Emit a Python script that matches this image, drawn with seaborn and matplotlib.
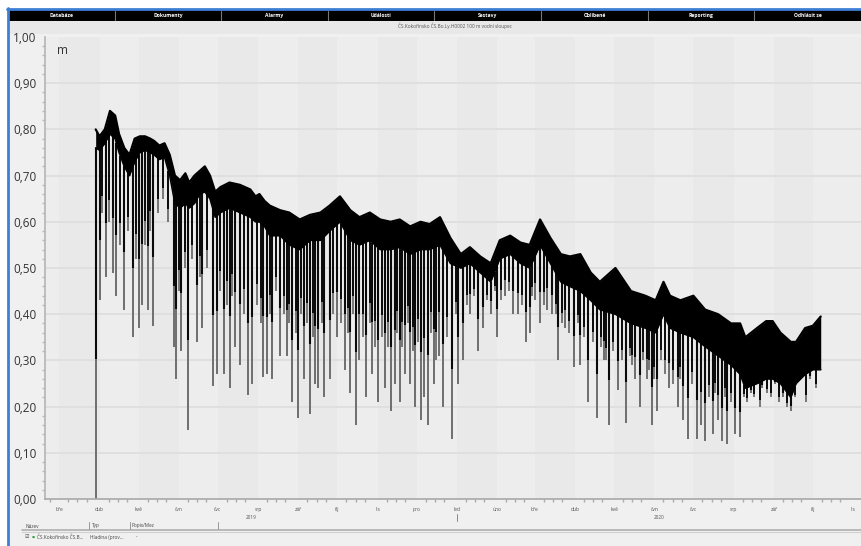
import numpy as np
import pandas as pd
import matplotlib
matplotlib.use("Agg")
import matplotlib.pyplot as plt
import matplotlib.dates as mdates
from matplotlib.patches import Rectangle
from matplotlib.lines import Line2D
import seaborn as sns

# ---------------- data ----------------
start_date = "2019-03-29"
# dense band of the water level record (day offset, top, bottom) in m
env_day = [0, 3, 7, 11, 15, 18, 22, 26, 30, 34, 38, 42, 45, 49, 53, 57, 61, 65, 69, 72,
           76, 80, 84, 88, 92, 96, 103, 111, 119, 123, 126, 130, 134, 142, 149, 157, 165,
           173, 180, 188, 196, 203, 211, 219, 227, 234, 242, 250, 257, 265, 273, 281, 288,
           296, 304, 311, 319, 327, 334, 342, 350, 358, 365, 373, 381, 388, 400, 412, 423,
           431, 437, 442, 450, 460, 469, 479, 489, 496, 500, 509, 516, 521, 527, 535, 539,
           546, 552, 558]
env_top = [0.80, 0.785, 0.80, 0.84, 0.83, 0.79, 0.76, 0.745, 0.78, 0.785, 0.785, 0.78, 0.775,
           0.765, 0.77, 0.745, 0.70, 0.69, 0.705, 0.685, 0.70, 0.71, 0.72, 0.70, 0.665, 0.675,
           0.685, 0.68, 0.67, 0.655, 0.66, 0.645, 0.635, 0.625, 0.62, 0.605, 0.615, 0.62, 0.635,
           0.655, 0.625, 0.61, 0.62, 0.605, 0.60, 0.605, 0.59, 0.60, 0.595, 0.61, 0.565, 0.53,
           0.545, 0.525, 0.51, 0.56, 0.57, 0.555, 0.55, 0.605, 0.565, 0.53, 0.525, 0.53, 0.49,
           0.47, 0.50, 0.45, 0.44, 0.43, 0.47, 0.44, 0.43, 0.44, 0.41, 0.40, 0.38, 0.38, 0.35,
           0.37, 0.385, 0.385, 0.36, 0.34, 0.34, 0.37, 0.375, 0.395]
env_bottom = [0.76, 0.755, 0.77, 0.79, 0.78, 0.75, 0.72, 0.70, 0.73, 0.75, 0.755, 0.75, 0.745,
              0.735, 0.74, 0.70, 0.64, 0.63, 0.64, 0.63, 0.64, 0.66, 0.665, 0.65, 0.61, 0.62,
              0.63, 0.62, 0.61, 0.60, 0.60, 0.59, 0.57, 0.57, 0.55, 0.54, 0.56, 0.56, 0.58,
              0.60, 0.56, 0.55, 0.56, 0.54, 0.54, 0.545, 0.53, 0.54, 0.54, 0.55, 0.51, 0.50,
              0.51, 0.49, 0.47, 0.52, 0.53, 0.51, 0.50, 0.55, 0.51, 0.47, 0.46, 0.45, 0.43,
              0.41, 0.40, 0.38, 0.37, 0.36, 0.40, 0.37, 0.36, 0.35, 0.33, 0.31, 0.29, 0.27,
              0.24, 0.25, 0.26, 0.26, 0.25, 0.22, 0.25, 0.27, 0.28, 0.28]
# deep downward drops (day offset, minimum level in m)
drop_day = [0, 3, 8, 13, 16, 22, 29, 33, 36, 40, 44, 60, 62, 66, 71, 78, 82, 90, 93, 99,
            103, 107, 111, 117, 120, 129, 132, 136, 142, 147, 151, 156, 160, 165, 169, 171,
            176, 180, 186, 192, 196, 200, 203, 208, 213, 217, 223, 227, 230, 234, 238, 242,
            246, 250, 253, 256, 260, 264, 267, 274, 279, 283, 288, 294, 298, 304, 309, 315,
            321, 325, 331, 334, 338, 342, 347, 351, 356, 361, 368, 373, 379, 386, 391, 395,
            402, 408, 415, 419, 424, 428, 432, 441, 448, 452, 456, 463, 466, 469, 475, 479,
            482, 486, 492, 496, 504, 513, 523, 529, 535, 543, 550]
drop_low = [0.0, 0.43, 0.48, 0.49, 0.44, 0.41, 0.35, 0.37, 0.42, 0.41, 0.375, 0.33, 0.26,
            0.32, 0.15, 0.34, 0.37, 0.245, 0.27, 0.27, 0.24, 0.33, 0.29, 0.225, 0.25, 0.265,
            0.27, 0.26, 0.31, 0.31, 0.21, 0.175, 0.26, 0.185, 0.25, 0.24, 0.22, 0.26, 0.35,
            0.28, 0.23, 0.16, 0.30, 0.22, 0.27, 0.21, 0.24, 0.19, 0.25, 0.21, 0.27, 0.25, 0.20,
            0.17, 0.22, 0.16, 0.25, 0.31, 0.20, 0.13, 0.25, 0.30, 0.40, 0.32, 0.37, 0.40, 0.35,
            0.44, 0.40, 0.40, 0.34, 0.36, 0.43, 0.38, 0.41, 0.40, 0.30, 0.37, 0.285, 0.29,
            0.21, 0.175, 0.30, 0.16, 0.235, 0.165, 0.26, 0.20, 0.26, 0.16, 0.19, 0.24, 0.20,
            0.17, 0.13, 0.13, 0.16, 0.125, 0.14, 0.17, 0.125, 0.12, 0.14, 0.135, 0.23, 0.24,
            0.25, 0.22, 0.19, 0.26, 0.26]
# shallower dips between the deep drops (day offset, minimum level in m)
dip_day = [5, 10, 19, 25, 31, 38, 42, 48, 52, 56, 64, 69, 74, 80, 86, 96, 101, 105, 114, 124,
           127, 134, 139, 145, 149, 154, 158, 163, 167, 174, 183, 189, 194, 198, 206, 211, 215,
           220, 225, 232, 236, 240, 244, 248, 258, 262, 270, 277, 286, 291, 301, 307, 312, 318,
           328, 336, 345, 354, 359, 364, 371, 376, 383, 389, 393, 398, 405, 411, 413, 421,
           426, 430, 435, 438, 444, 450, 459, 472, 477, 484, 489, 499, 501, 507, 511, 517,
           520, 526, 532, 538, 547, 554]
dip_low = [0.62, 0.60, 0.55, 0.58, 0.52, 0.55, 0.58, 0.62, 0.65, 0.60, 0.45, 0.50, 0.52, 0.48,
           0.50, 0.45, 0.42, 0.44, 0.40, 0.42, 0.38, 0.40, 0.45, 0.40, 0.38, 0.36, 0.40, 0.38,
           0.35, 0.38, 0.40, 0.38, 0.36, 0.40, 0.35, 0.38, 0.33, 0.35, 0.33, 0.36, 0.33, 0.38,
           0.32, 0.34, 0.36, 0.30, 0.35, 0.40, 0.42, 0.44, 0.43, 0.45, 0.43, 0.45, 0.42, 0.44,
           0.42, 0.40, 0.38, 0.36, 0.38, 0.35, 0.34, 0.33, 0.30, 0.32, 0.30, 0.31, 0.29, 0.30,
           0.28, 0.26, 0.30, 0.27, 0.25, 0.26, 0.25, 0.22, 0.23, 0.22, 0.21, 0.22, 0.21, 0.22,
           0.20, 0.23, 0.22, 0.21, 0.20, 0.22, 0.21, 0.24]

month_ticks = pd.date_range("2019-03-01", "2020-11-01", freq="MS")
month_labels = ["bře", "dub", "kvě", "čvn", "čvc", "srp", "zář", "říj", "lis", "pro", "led",
                "úno", "bře", "dub", "kvě", "čvn", "čvc", "srp", "zář", "říj", "lis"]
year_labels = ["2019", "2020"]
y_ticks = [0.0, 0.1, 0.2, 0.3, 0.4, 0.5, 0.6, 0.7, 0.8, 0.9, 1.0]
y_labels = ["0,00", "0,10", "0,20", "0,30", "0,40", "0,50", "0,60", "0,70", "0,80", "0,90", "1,00"]
tabs = ["Databáze", "Dokumenty", "Alarmy", "Události", "Sestavy", "Oblíbené", "Reporting", "Odhlásit se"]
chart_title = "ČS.Kokořínsko ČS.Bo.Ly.H0002 100 m vodní sloupec"

# ---------------- figure ----------------
sns.set_theme(style="white")
plt.rcParams["font.family"] = ["Open Sans", "DejaVu Sans"]
W, H = 861, 546
fig = plt.figure(figsize=(W / 100, H / 100), dpi=100, facecolor="white")

def fx(px):
    return px / W

def fy(py):
    return 1 - py / H

# app chrome
fig.patches.append(Rectangle((fx(8), 0), 1 - fx(8), fy(9), transform=fig.transFigure,
                             facecolor="#f0f0f0", edgecolor="none", zorder=-5))
fig.patches.append(Rectangle((fx(8), fy(21)), 1 - fx(8), fy(10) - fy(21), transform=fig.transFigure,
                             facecolor="#000000", edgecolor="none", zorder=-4))
fig.patches.append(Rectangle((fx(8), fy(34)), 1 - fx(8), fy(21) - fy(34), transform=fig.transFigure,
                             facecolor="#e8e8e8", edgecolor="none", zorder=-4))
fig.lines.append(Line2D([fx(8), fx(8)], [0, fy(8)], transform=fig.transFigure, color="#3d7fd6", lw=2))
fig.lines.append(Line2D([fx(7), 1], [fy(8.5), fy(8.5)], transform=fig.transFigure, color="#3d7fd6", lw=2))
tab_w = (W - 8) / len(tabs)
for i, t in enumerate(tabs):
    cx = 8 + tab_w * (i + 0.5)
    fig.text(fx(cx), fy(15.5), t, color="white", fontsize=3.6, fontweight="bold", ha="center", va="center")
    if i > 0:
        fig.lines.append(Line2D([fx(8 + tab_w * i)] * 2, [fy(11), fy(20)], transform=fig.transFigure,
                                color="#777777", lw=0.8))
fig.text(fx(455), fy(26), chart_title, fontsize=3.4, color="#555555", ha="center", va="center")

# bottom legend table
fig.lines.append(Line2D([fx(22), 1], [fy(530), fy(530)], transform=fig.transFigure, color="#b0b0b0", lw=1.2))
fig.lines.append(Line2D([fx(22), 1], [fy(532), fy(532)], transform=fig.transFigure, color="#d0d0d0", lw=0.8))
for x0, lab in [(26, "Název"), (92, "Typ"), (132, "Popis/Mez")]:
    fig.text(fx(x0), fy(526), lab, fontsize=3.4, color="#444444", ha="left", va="center")
for x0 in [89, 130, 218]:
    fig.lines.append(Line2D([fx(x0)] * 2, [fy(522), fy(529)], transform=fig.transFigure, color="#999999", lw=0.7))
fig.text(fx(25), fy(537), "☑", fontsize=3.6, color="#444444", ha="left", va="center",
         family=["DejaVu Sans"])
fig.text(fx(32), fy(537), "●", fontsize=2.5, color="#2a9d3a", ha="left", va="center", family=["DejaVu Sans"])
fig.text(fx(37), fy(537), "ČS.Kokořínsko ČS.B...", fontsize=3.4, color="#444444", ha="left", va="center")
fig.text(fx(90), fy(537), "Hladina (prov...", fontsize=3.4, color="#444444", ha="left", va="center")
fig.text(fx(136), fy(537), "-", fontsize=3.4, color="#444444", ha="left", va="center")

# ---------------- axes ----------------
ax = fig.add_axes([fx(45), fy(499), fx(861) - fx(45), fy(37) - fy(499)])
ax.set_zorder(10)
ax.set_facecolor("#ededed")
t0 = pd.Timestamp(start_date)
env_dates = t0 + pd.to_timedelta(env_day, unit="D")
drop_dates = t0 + pd.to_timedelta(drop_day, unit="D")
dip_dates = t0 + pd.to_timedelta(dip_day, unit="D")

xmin, xmax = pd.Timestamp("2019-02-18"), pd.Timestamp("2020-11-07")
ax.set_xlim(xmin, xmax)
ax.set_ylim(0, 1.0)

# alternating month stripes
for i in range(len(month_ticks) - 1):
    if i % 2 == 0:
        ax.axvspan(month_ticks[i], month_ticks[i + 1], color="#e9e9e9", lw=0, zorder=0)
for v in y_ticks[1:-1]:
    ax.axhline(v, color="#dcdcdc", lw=1.1, zorder=0.5)

env_num = mdates.date2num(env_dates)

def draw_drops(dates, lows, frac, lw_grey, lw_black):
    num = mdates.date2num(dates)
    base = np.interp(num, env_num, env_bottom)
    low = np.array(lows)
    ax.vlines(dates, low, base, color="#6e6e6e", lw=lw_grey, zorder=2)
    ax.vlines(dates, base - frac * (base - low), base, color="#0a0a0a", lw=lw_black, zorder=3)

draw_drops(drop_dates, drop_low, 0.6, 1.4, 1.5)
draw_drops(dip_dates, dip_low, 0.75, 1.3, 1.4)

# dense band
ax.fill_between(env_dates, env_bottom, env_top, color="#000000", lw=0, zorder=4)
df_top = pd.DataFrame({"date": env_dates, "level": env_top})
df_bot = pd.DataFrame({"date": env_dates, "level": env_bottom})
sns.lineplot(data=df_top, x="date", y="level", ax=ax, color="black", lw=1.6, zorder=5)
sns.lineplot(data=df_bot, x="date", y="level", ax=ax, color="black", lw=1.2, zorder=5)

# axes styling
ax.set_xlabel("")
ax.set_ylabel("")
for s in ["top", "right"]:
    ax.spines[s].set_visible(False)
ax.spines["left"].set_color("#b5b5b5")
ax.spines["left"].set_linewidth(1.2)
ax.spines["bottom"].set_color("#a8a8a8")
ax.spines["bottom"].set_linewidth(1.2)
ax.set_yticks(y_ticks)
ax.set_yticklabels(y_labels, fontsize=8.5, color="#333333")
ax.yaxis.set_minor_locator(matplotlib.ticker.MultipleLocator(0.02))
ax.tick_params(axis="y", which="major", length=3, color="#aaaaaa", pad=3)
ax.tick_params(axis="y", which="minor", length=2, color="#bbbbbb", left=True)
ax.set_xticks(month_ticks)
ax.set_xticklabels(month_labels, fontsize=3.6, color="#555555")
ax.xaxis.set_minor_locator(mdates.DayLocator(bymonthday=[8, 15, 22]))
ax.tick_params(axis="x", which="major", length=3, color="#999999", pad=3)
ax.tick_params(axis="x", which="minor", length=2, color="#aaaaaa", bottom=True)

ax.text(0.015, 0.985, "m", transform=ax.transAxes, fontsize=8.5, color="#333333", ha="left", va="top")

# year labels centred on visible part of each year
ynum = mdates.date2num(pd.Timestamp("2020-01-01"))
xmn, xmx = mdates.date2num(xmin), mdates.date2num(xmax)
for lab, (a, b) in zip(year_labels, [(xmn, ynum), (ynum, xmx)]):
    ax.text((a + b) / 2, -0.04, lab, transform=ax.get_xaxis_transform(), fontsize=3.4,
            color="#555555", ha="center", va="center", clip_on=False)
ax.plot([ynum, ynum], [-0.033, -0.047], transform=ax.get_xaxis_transform(), color="#777777",
        lw=0.6, clip_on=False)

fig.savefig("out.png", dpi=100, facecolor="white")
